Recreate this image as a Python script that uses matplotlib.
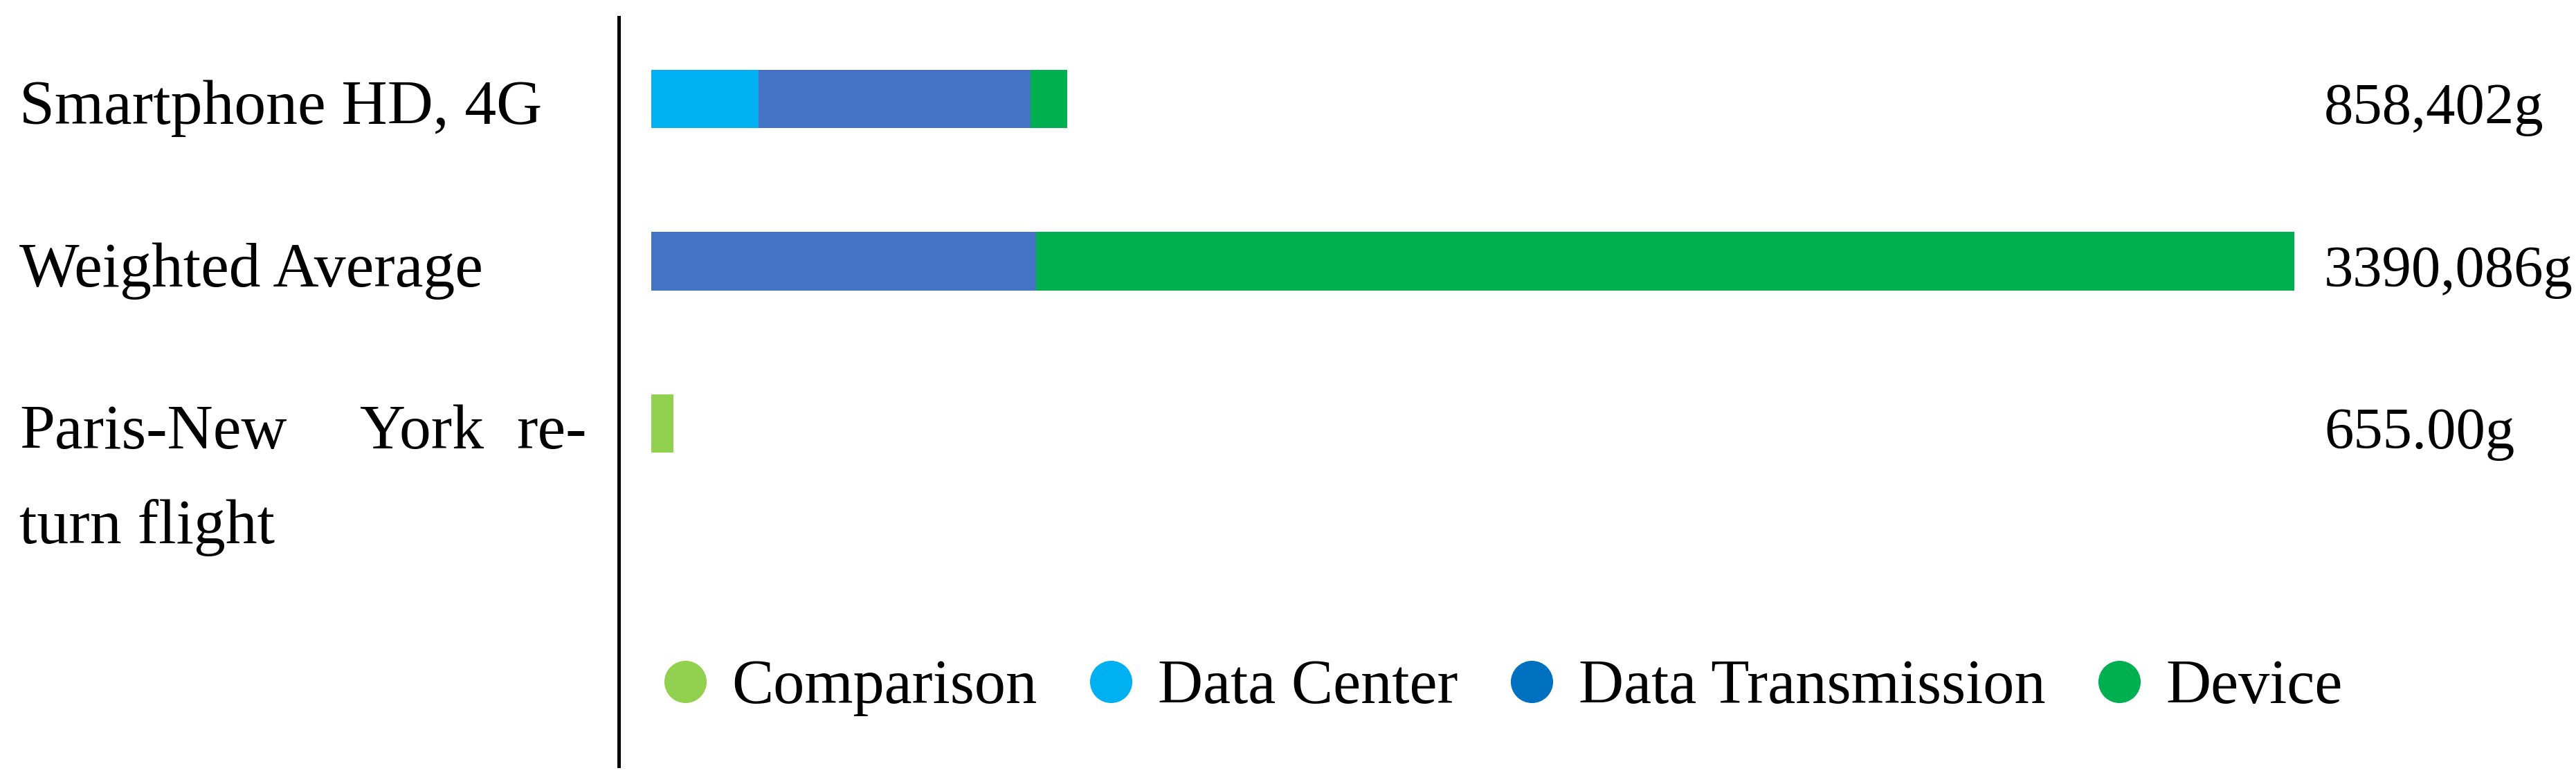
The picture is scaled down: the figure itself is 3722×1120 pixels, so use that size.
import matplotlib
matplotlib.use("Agg")
import matplotlib.pyplot as plt
import numpy as np
from matplotlib.transforms import blended_transform_factory
from matplotlib.lines import Line2D

# ---- data ----
categories = ["Smartphone HD, 4G", "Weighted Average", "Paris-New York return flight"]
comparison = [0, 0, 46]
data_center = [221, 0, 0]
data_transmission = [561, 794, 0]
device = [76.4, 2596, 0]
total_labels = ["858,402g", "3390,086g", "655.00g"]
series_names = ["Comparison", "Data Center", "Data Transmission", "Device"]

# ---- style ----
col_comp = "#92D050"
col_dc = "#00B0F0"
col_tr_bar = "#4472C4"
col_tr_leg = "#0070C0"
col_dev = "#00B050"
FONT = "Liberation Serif"
FS_CAT = 66
FS_VAL = 61
FS_LEG = 65

W, H = 3723, 1120
fig = plt.figure(figsize=(W / 100, H / 100), dpi=100)
ax = fig.add_axes([894.5 / W, 1 - 1107 / H, (W - 894.5) / W, (1107 - 25) / H])

y = np.arange(len(categories))
bh = 0.362
left = np.zeros(len(categories))
for vals, c in [(comparison, col_comp), (data_center, col_dc),
                (data_transmission, col_tr_bar), (device, col_dev)]:
    vals = np.array(vals, dtype=float)
    ax.barh(y, vals, left=left, height=bh, color=c, edgecolor="none")
    left = left + vals

ax.set_xlim(-66.4, 3972.7)
ax.set_ylim(4.111, -0.503)

for s in ["top", "right", "bottom"]:
    ax.spines[s].set_visible(False)
ax.spines["left"].set_linewidth(3.6)
ax.spines["left"].set_color("black")
ax.set_xticks([])
ax.set_yticks([])

# value labels on the right
tr_val = blended_transform_factory(ax.transAxes, ax.transData)
for yi, lab in zip(y, total_labels):
    ax.text((3358 - 894.5) / (W - 894.5), yi + 0.154, lab, transform=tr_val,
            ha="left", va="baseline", fontsize=FS_VAL, family=FONT)

# category labels on the left
tr_cat = blended_transform_factory(fig.transFigure, ax.transData)
fig.text(28 / W, y[0] + 0.154, categories[0], transform=tr_cat,
         ha="left", va="baseline", fontsize=FS_CAT, family=FONT)
fig.text(28 / W, y[1] + 0.154, categories[1], transform=tr_cat,
         ha="left", va="baseline", fontsize=FS_CAT, family=FONT)
# justified two-line label
fig.text(28 / W, y[2] + 0.154, "Paris-New", transform=tr_cat,
         ha="left", va="baseline", fontsize=FS_CAT, family=FONT)
fig.text(520 / W, y[2] + 0.154, "York", transform=tr_cat,
         ha="left", va="baseline", fontsize=FS_CAT, family=FONT)
fig.text(848 / W, y[2] + 0.154, "re-", transform=tr_cat,
         ha="right", va="baseline", fontsize=FS_CAT, family=FONT)
fig.text(28 / W, y[2] + 0.154 + 0.584, "turn flight", transform=tr_cat,
         ha="left", va="baseline", fontsize=FS_CAT, family=FONT)

# legend
handles = [Line2D([], [], marker="o", linestyle="none", markersize=44,
                  markerfacecolor=c, markeredgecolor="none")
           for c in [col_comp, col_dc, col_tr_leg, col_dev]]
fig.legend(handles, series_names, loc="center left",
           bbox_to_anchor=(958 / W, 1 - 994 / H), ncol=4, frameon=False,
           prop={"family": FONT, "size": FS_LEG}, handlelength=0.7,
           handletextpad=0.4, columnspacing=0.83, borderpad=0,
           borderaxespad=0)

fig.savefig("out.png", dpi=100)
